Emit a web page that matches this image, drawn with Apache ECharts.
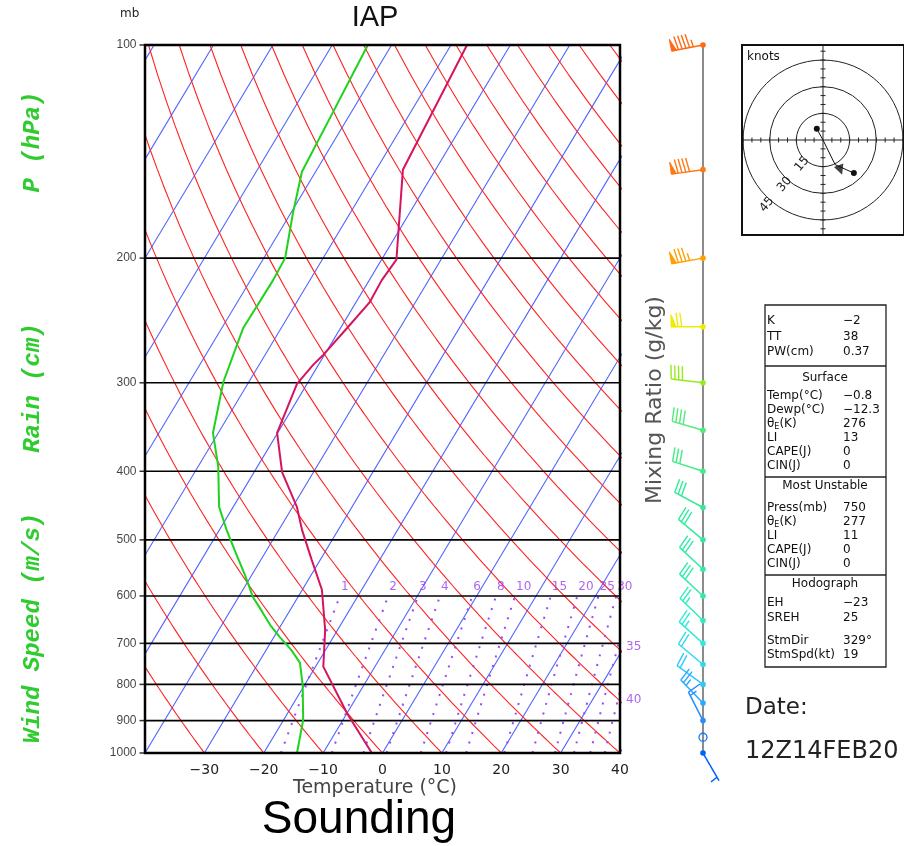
<!DOCTYPE html>
<html><head><meta charset="utf-8">
<script src="https://cdn.jsdelivr.net/npm/echarts@6/dist/echarts.min.js"></script>
<style>html,body{margin:0;padding:0;background:#fff}#c{width:904px;height:846px}</style>
</head><body><div id="c"></div>
<script>
// ---------------- data ----------------
const tempP = [1000, 880, 755, 670, 588, 534, 484, 449, 401, 353, 301, 283, 274, 251, 231, 215, 201, 150, 100];
const tempT = [-1.8, -9.9, -18.7, -22.1, -26.7, -31.4, -36.1, -39.3, -45.3, -50.1, -51.7, -50.9, -50.2, -48.9, -47.7, -47.9, -47.5, -55.5, -57.3];
const dewP = [1000, 898, 802, 746, 715, 686, 659, 632, 602, 561, 517, 484, 449, 394, 353, 299, 251, 215, 200, 173, 151, 124, 100];
const dewT = [-14.4, -16.7, -20.3, -23.0, -25.8, -29.0, -31.9, -34.5, -37.6, -41.1, -45.4, -48.8, -52.4, -56.6, -60.9, -64.3, -66.4, -66.2, -66.4, -69.6, -72.3, -73.1, -74.0];
const windP   = [100, 150, 200, 250, 300, 350, 400, 450, 500, 550, 600, 650, 700, 750, 800, 850, 900, 950, 1000];
const windDir = [259, 262, 260, 270, 277, 286, 288, 298, 310, 313, 313, 314, 312, 310, 306, 316, 333, 0, 150];
const windSpd = [95, 90, 85, 70, 40, 40, 30, 30, 30, 30, 30, 25, 25, 20, 20, 25, 15, 0, 7];
const hodoP = [1000, 950, 900, 850];
const stmDir = 329, stmSpd = 19;
const mixW = [1, 2, 3, 4, 6, 8, 10, 15, 20, 25, 30, 35, 40];
const isobarP = [200, 300, 400, 500, 600, 700, 800, 900];
const pressLabels = [100, 200, 300, 400, 500, 600, 700, 800, 900, 1000];
const ringKts = [15, 30, 45];
const statSec1 = [['K', '−2'], ['TT', '38'], ['PW(cm)', '0.37']];
const statSec2 = [['Temp(°C)', '−0.8'], ['Dewp(°C)', '−12.3'], ['θE', '276'], ['LI', '13'], ['CAPE(J)', '0'], ['CIN(J)', '0']];
const statSec3 = [['Press(mb)', '750'], ['θE', '277'], ['LI', '11'], ['CAPE(J)', '0'], ['CIN(J)', '0']];
const statSec4 = [['EH', '−23'], ['SREH', '25'], ['StmDir', '329°'], ['StmSpd(kt)', '19']];

// ---------------- helpers ----------------
const K = 50 / Math.log(5);               // skew: °C per ln(1000/p)
const sx = (T, p) => T + K * Math.log(1000 / p);
const FONT = 'DejaVu Sans';

function lvlColor(p) {
  const stops = [[1000,[0,96,255]],[900,[40,140,255]],[800,[50,200,255]],[700,[50,235,215]],[600,[50,235,170]],
                 [450,[50,235,150]],[350,[80,235,120]],[300,[150,235,30]],[250,[240,235,0]],[200,[255,160,0]],
                 [150,[255,120,20]],[100,[255,105,20]]];
  for (let i = 0; i < stops.length - 1; i++) {
    const [p0, c0] = stops[i], [p1, c1] = stops[i + 1];
    if (p <= p0 && p >= p1) {
      const f = (Math.log(p0) - Math.log(p)) / (Math.log(p0) - Math.log(p1));
      const c = c0.map((v, k) => Math.round(v + (c1[k] - v) * f));
      return 'rgb(' + c.join(',') + ')';
    }
  }
  return 'rgb(255,105,20)';
}

// ---------------- series ----------------
const series = [];
const base = { type: 'line', xAxisIndex: 0, yAxisIndex: 0, showSymbol: false, silent: true, animation: false, clip: true };

// isotherms
for (let t = -130; t <= 40; t += 10) {
  series.push(Object.assign({}, base, { data: [[sx(t, 1000), 1000], [sx(t, 100), 100]],
    lineStyle: { color: '#4f62ff', width: 1.1 }, z: 2 }));
}
// dry adiabats
const sampP = []; for (let p = 1000; p >= 100; p -= 10) sampP.push(p);
for (let th = -40; th <= 220; th += 10) {
  const thK = th + 273.15;
  series.push(Object.assign({}, base, {
    data: sampP.map(p => [sx(thK * Math.pow(p / 1000, 0.2857) - 273.15, p), p]),
    lineStyle: { color: '#ff2222', width: 1.1 }, z: 2 }));
}
// mixing ratio lines
const mixTd = (w, p) => { const e = w * p / 622; const l = Math.log(e / 6.112); return 243.5 * l / (17.67 - l); };
const mrP = []; for (let p = 1000; p >= 600; p -= 20) mrP.push(p);
const mrTop = [], mrRight = [];
mixW.forEach(w => {
  series.push(Object.assign({}, base, { data: mrP.map(p => [sx(mixTd(w, p), p), p]),
    lineStyle: { color: '#9a48ff', width: 2, type: [2, 8] }, z: 3 }));
  const x600 = sx(mixTd(w, 600), 600);
  if (x600 <= 40) mrTop.push({ value: [x600, 600], name: String(w) });
  else {
    let lo = 600, hi = 1000;
    for (let i = 0; i < 40; i++) { const m = (lo + hi) / 2; if (sx(mixTd(w, m), m) > 40) lo = m; else hi = m; }
    mrRight.push({ value: [40, (lo + hi) / 2], name: String(w) });
  }
});
series.push({ type: 'scatter', xAxisIndex: 0, yAxisIndex: 0, symbolSize: 0, silent: true, animation: false, clip: false, z: 6,
  data: mrTop, label: { show: true, position: [1, -15], formatter: '{b}', color: '#9a3cf0', fontSize: 12, fontFamily: FONT, align: 'left', verticalAlign: 'top' } });
series.push({ type: 'scatter', xAxisIndex: 0, yAxisIndex: 0, symbolSize: 0, silent: true, animation: false, clip: false, z: 6,
  data: mrRight, label: { show: true, position: [6, 2], formatter: '{b}', color: '#9a3cf0', fontSize: 12, fontFamily: FONT, align: 'left', verticalAlign: 'top' } });
// isobars
isobarP.forEach(p => series.push(Object.assign({}, base, { data: [[-40, p], [40, p]], lineStyle: { color: '#000', width: 1.6 }, z: 4 })));
// pressure labels
series.push({ type: 'scatter', xAxisIndex: 0, yAxisIndex: 0, symbol: 'rect', symbolSize: [5, 1.5], symbolOffset: [-3, 0], silent: true, animation: false, clip: false,
  itemStyle: { color: '#000' }, data: pressLabels.map(p => [-40, p]),
  label: { show: true, position: 'left', distance: 3, formatter: o => String(o.value[1]), color: '#111', fontSize: 12, fontFamily: '"Liberation Sans"' } });
// profiles
series.push(Object.assign({}, base, { data: dewP.map((p, i) => [sx(dewT[i], p), p]), lineStyle: { color: '#1ed21e', width: 2 }, z: 8 }));
series.push(Object.assign({}, base, { data: tempP.map((p, i) => [sx(tempT[i], p), p]), lineStyle: { color: '#d6145e', width: 2 }, z: 8 }));

// wind column
series.push({ type: 'line', xAxisIndex: 1, yAxisIndex: 1, showSymbol: false, silent: true, animation: false,
  data: [[0.5, 100], [0.5, 1000]], lineStyle: { color: '#666', width: 1.5 }, z: 3 });
series.push({ type: 'custom', xAxisIndex: 1, yAxisIndex: 1, silent: true, animation: false, z: 5,
  data: windP.map((p, i) => [0.5, p, windDir[i], windSpd[i]]),
  renderItem: (params, api) => {
    const p = api.value(1), dir = api.value(2), spd = api.value(3);
    const b = api.coord([0.5, p]);
    const col = lvlColor(p);
    const kids = [];
    if (spd < 2.5) {
      kids.push({ type: 'circle', shape: { cx: b[0], cy: b[1], r: 4 }, style: { fill: null, stroke: col, lineWidth: 1.3 } });
      return { type: 'group', children: kids };
    }
    const a = dir * Math.PI / 180, ux = Math.sin(a), uy = -Math.cos(a);
    const px = -uy, py = ux, L = 32;
    const tx = b[0] + ux * L, ty = b[1] + uy * L;
    kids.push({ type: 'line', shape: { x1: b[0], y1: b[1], x2: tx, y2: ty }, style: { stroke: col, lineWidth: 1.5 } });
    let s = Math.round(spd / 5) * 5;
    const nP = Math.floor(s / 50); s -= nP * 50;
    const nF = Math.floor(s / 10); s -= nF * 10;
    const nH = s >= 5 ? 1 : 0;
    let d = 0;
    for (let i = 0; i < nP; i++) {
      const x0 = tx - ux * d, y0 = ty - uy * d, x1 = tx - ux * (d + 5), y1 = ty - uy * (d + 5);
      kids.push({ type: 'polygon', shape: { points: [[x0, y0], [x0 + px * 12, y0 + py * 12], [x1, y1]] }, style: { fill: col, stroke: col, lineWidth: 1 } });
      d += 7;
    }
    if (nP === 0 && nF === 0) d = 4;
    for (let i = 0; i < nF + nH; i++) {
      const len = i < nF ? 14 : 7.5, sl = i < nF ? 2 : 1;
      const x0 = tx - ux * d, y0 = ty - uy * d;
      kids.push({ type: 'line', shape: { x1: x0, y1: y0, x2: x0 + px * len + ux * sl, y2: y0 + py * len + uy * sl }, style: { stroke: col, lineWidth: 1.4 } });
      d += 3.8;
    }
    kids.push({ type: 'circle', shape: { cx: b[0], cy: b[1], r: 2.8 }, style: { fill: col } });
    return { type: 'group', children: kids };
  } });

// hodograph
const uv = (dir, spd) => [-spd * Math.sin(dir * Math.PI / 180), -spd * Math.cos(dir * Math.PI / 180)];
series.push({ type: 'custom', xAxisIndex: 2, yAxisIndex: 2, silent: true, animation: false, z: 3, clip: true,
  data: [[0, 0]],
  renderItem: (params, api) => {
    const c = api.coord([0, 0]);
    const k = api.coord([1, 0])[0] - c[0];
    const kids = [];
    const st = { stroke: '#222', lineWidth: 1, fill: null };
    ringKts.forEach(r => {
      kids.push({ type: 'circle', shape: { cx: c[0], cy: c[1], r: r * k }, style: st });
      const q = r * k + 5;
      kids.push({ type: 'text', x: c[0] - q * 0.66, y: c[1] + q * 0.76, rotation: 50 * Math.PI / 180,
        style: { text: String(r), fill: '#222', font: '12px ' + FONT, align: 'center', verticalAlign: 'middle', textAlign: 'center', textVerticalAlign: 'middle' } });
    });
    const xa = api.coord([-45.6, 0]), xb = api.coord([45.6, 0]), ya = api.coord([0, -51.6]), yb = api.coord([0, 51.6]);
    kids.push({ type: 'line', shape: { x1: xa[0], y1: c[1], x2: xb[0], y2: c[1] }, style: st });
    kids.push({ type: 'line', shape: { x1: c[0], y1: ya[1], x2: c[0], y2: yb[1] }, style: st });
    for (let t = -50; t <= 50; t += 5) {
      if (t === 0) continue;
      const tx = c[0] + t * k, ty = c[1] - t * k;
      kids.push({ type: 'line', shape: { x1: tx, y1: c[1] - 2.5, x2: tx, y2: c[1] + 2.5 }, style: st });
      kids.push({ type: 'line', shape: { x1: c[0] - 2.5, y1: ty, x2: c[0] + 2.5, y2: ty }, style: st });
    }
    return { type: 'group', children: kids };
  } });
const hodoData = hodoP.map((p, j) => {
  const i = windP.indexOf(p);
  const v = uv(windDir[i], windSpd[i]);
  const end = j === 0 || j === hodoP.length - 1;
  return { value: v, symbol: end ? 'circle' : 'none', symbolSize: end ? 6 : 0 };
});
series.push({ type: 'line', xAxisIndex: 2, yAxisIndex: 2, silent: true, animation: false, z: 5,
  data: hodoData, lineStyle: { color: '#111', width: 1 }, itemStyle: { color: '#111' } });
series.push({ type: 'scatter', xAxisIndex: 2, yAxisIndex: 2, silent: true, animation: false, z: 6,
  data: [uv(stmDir, stmSpd)], symbol: 'triangle', symbolSize: 10, symbolRotate: 200, itemStyle: { color: '#111' } });

// ---------------- graphics ----------------
const g = [];
const txt = (x, y, text, font, fill, align, vAlign, rot) => g.push({ type: 'text', x, y, rotation: rot || 0, silent: true,
  style: { text, font, fill: fill || '#111', align: align || 'left', verticalAlign: vAlign || 'middle', textAlign: align || 'left', textVerticalAlign: vAlign || 'middle' } });
txt(120, 14, 'mb', '12px ' + FONT, '#222');
txt(375, 18, 'IAP', '29px "Liberation Sans Narrow", "Liberation Sans"', '#111', 'center');
txt(375, 788, 'Temperature (°C)', '19px ' + FONT, '#444', 'center');
txt(359, 820, 'Sounding', '46px "Liberation Sans", Arial', '#000', 'center');
txt(655, 400, 'Mixing Ratio (g/kg)', '22px ' + FONT, '#555', 'center', 'middle', Math.PI / 2);
const greenFont = 'italic bold 24px "Liberation Mono", "DejaVu Sans Mono"';
txt(33, 142, 'P (hPa)', greenFont, '#2ecc2e', 'center', 'middle', Math.PI / 2);
txt(33, 388, 'Rain (cm)', greenFont, '#2ecc2e', 'center', 'middle', Math.PI / 2);
txt(33, 628, 'Wind Speed (m/s)', greenFont, '#2ecc2e', 'center', 'middle', Math.PI / 2);
txt(745, 708, 'Date:', '23px ' + FONT, '#222');
txt(745, 752, '12Z14FEB20', '24px ' + FONT, '#222');
txt(747, 57, 'knots', '12px ' + FONT, '#111');
// stats box
const box = { l: 765, r: 886 };
g.push({ type: 'rect', shape: { x: box.l, y: 305, width: box.r - box.l, height: 362 }, style: { fill: null, stroke: '#222', lineWidth: 1.3 }, silent: true });
[366, 477, 575].forEach(y => g.push({ type: 'line', shape: { x1: box.l, y1: y, x2: box.r, y2: y }, style: { stroke: '#222', lineWidth: 1.6 }, silent: true }));
const sf = '12px ' + FONT;
const row = (lab, val, y) => {
  if (lab === 'θE') {
    g.push({ type: 'text', x: 767, y, silent: true, style: { text: '{a|θ}{b|E}{a|(K)}', fill: '#111', verticalAlign: 'middle', textVerticalAlign: 'middle',
      rich: { a: { fontSize: 12, fontFamily: FONT, fill: '#111' }, b: { fontSize: 8, fontFamily: FONT, fill: '#111', padding: [5, 0, 0, 0] } } } });
  } else txt(767, y, lab, sf);
  txt(843, y, val, sf);
};
statSec1.forEach((r, i) => row(r[0], r[1], 321 + i * 15.5));
txt(825, 378, 'Surface', sf, '#111', 'center');
statSec2.forEach((r, i) => row(r[0], r[1], 396 + i * 14));
txt(825, 486, 'Most Unstable', sf, '#111', 'center');
statSec3.forEach((r, i) => row(r[0], r[1], 508 + i * 14));
txt(825, 584, 'Hodograph', sf, '#111', 'center');
statSec4.forEach((r, i) => row(r[0], r[1], [603, 618, 641, 655][i]));

const hid = { show: false };
const option = {
  animation: false,
  backgroundColor: '#fff',
  grid: [
    { left: 145, top: 45, width: 475, height: 708, show: true, borderColor: '#000', borderWidth: 2.5, backgroundColor: 'transparent', z: 10 },
    { left: 690, top: 45, width: 26, height: 708 },
    { left: 742, top: 45, width: 168, height: 190, show: true, borderColor: '#111', borderWidth: 2, z: 10 }
  ],
  xAxis: [
    { type: 'value', gridIndex: 0, min: -40, max: 40, interval: 10, axisLine: hid, axisTick: hid, splitLine: hid,
      axisLabel: { formatter: v => v === -40 ? '' : String(v).replace('-', '−'), fontSize: 14, color: '#222', margin: 10, fontFamily: FONT } },
    { type: 'value', gridIndex: 1, min: 0, max: 1, show: false },
    { type: 'value', gridIndex: 2, min: -45.6, max: 45.6, show: false }
  ],
  yAxis: [
    { type: 'log', logBase: 10, gridIndex: 0, min: 100, max: 1000, inverse: true, show: false },
    { type: 'log', logBase: 10, gridIndex: 1, min: 100, max: 1000, inverse: true, show: false },
    { type: 'value', gridIndex: 2, min: -51.6, max: 51.6, show: false }
  ],
  series,
  graphic: { elements: g }
};
const chart = echarts.init(document.getElementById('c'), null, { renderer: 'canvas', width: 904, height: 846 });
chart.setOption(option);
</script></body></html>
